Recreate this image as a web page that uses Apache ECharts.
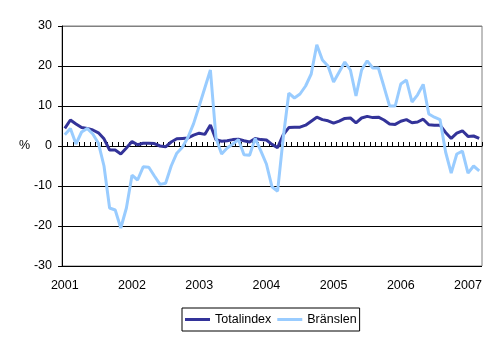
<!DOCTYPE html>
<html>
<head>
<meta charset="utf-8">
<script src="https://cdn.jsdelivr.net/npm/echarts@6/dist/echarts.min.js"></script>
<style>
  html, body { margin: 0; padding: 0; background: #fff; }
  #chart { width: 497px; height: 340px; }
</style>
</head>
<body>
<div id="chart"></div>
<script>
// Monthly change, %, January 2001 – March 2007
const years = ['2001', '2002', '2003', '2004', '2005', '2006', '2007'];
const months = [];
years.forEach(y => {
  const last = y === '2007' ? 3 : 12;
  for (let m = 1; m <= last; m++) months.push(y + '-' + String(m).padStart(2, '0'));
});

const totalindex = [
  4.4, 6.5, 5.5, 4.6, 4.4, 4.0, 3.3, 1.8, -1.0, -1.0, -2.0, -0.5,
  1.1, 0.3, 0.7, 0.7, 0.6, 0.0, -0.2, 1.0, 1.8, 1.9, 2.0, 2.7,
  3.2, 2.9, 5.25, 1.6, 1.2, 1.3, 1.6, 1.7, 1.3, 1.0, 1.9, 1.6,
  1.5, 0.4, -0.4, 2.8, 4.6, 4.7, 4.7, 5.2, 6.2, 7.2, 6.6, 6.3,
  5.7, 6.2, 6.9, 7.0, 5.8, 7.0, 7.4, 7.1, 7.2, 6.5, 5.5, 5.4,
  6.2, 6.6, 5.8, 6.0, 6.7, 5.3, 5.2, 5.2, 3.4, 1.9, 3.2, 3.8,
  2.4, 2.5, 1.9
];

const branslen = [
  2.8, 4.4, 0.5, 3.5, 4.4, 3.0, 0.7, -5.0, -15.5, -16.0, -20.5, -15.5,
  -7.3, -8.5, -5.2, -5.3, -7.5, -9.6, -9.3, -5.0, -1.8, -0.3, 2.2, 5.6,
  10.0, 14.5, 19.0, 2.0, -2.0, -0.5, 0.5, 1.6, -2.2, -2.3, 1.9, -1.2,
  -4.5, -10.2, -11.3, 2.0, 13.2, 12.0, 13.0, 15.0, 18.0, 25.3, 21.5, 20.0,
  16.0, 18.5, 21.0, 19.0, 12.5, 19.0, 21.3, 19.5, 19.5, 14.8, 10.0, 10.0,
  15.5, 16.5, 11.0, 12.8, 15.4, 8.0, 7.2, 6.6, -1.5, -6.8, -2.0, -1.3,
  -6.8, -5.0, -6.2
];

const yTicks = { min: -30, max: 30, step: 10 };

const font = 'Liberation Sans, Arial, sans-serif';
const chart = echarts.init(document.getElementById('chart'), null, { renderer: 'canvas' });

chart.setOption({
  animation: false,
  backgroundColor: '#ffffff',
  textStyle: { fontFamily: font },
  grid: {
    left: 62, right: 15, top: 26, bottom: 74,
    show: true, borderColor: '#808080', borderWidth: 1
  },
  xAxis: {
    type: 'category',
    data: months,
    boundaryGap: true,
    axisLine: { lineStyle: { color: '#000', width: 1 } },
    axisTick: { show: true, inside: true, length: 4, interval: 0, lineStyle: { color: '#000' } },
    axisLabel: {
      interval: 11,
      margin: 13,
      color: '#000',
      fontSize: 12.5,
      fontFamily: font,
      formatter: v => v.slice(0, 4)
    },
    splitLine: { show: false }
  },
  yAxis: {
    type: 'value',
    min: yTicks.min, max: yTicks.max, interval: yTicks.step,
    axisLine: { show: true, lineStyle: { color: '#000', width: 1 } },
    axisTick: { show: true, length: 4, lineStyle: { color: '#000' } },
    axisLabel: { color: '#000', fontSize: 12.5, fontFamily: font, margin: 10 },
    splitLine: {
      show: true,
      lineStyle: { color: ['#000', '#000', '#000', '#000', '#000', '#000', '#808080'], width: 1 }
    }
  },
  legend: {
    left: 182, top: 308,
    padding: [5, 3, 5, 3],
    itemWidth: 25, itemHeight: 3, itemGap: 6,
    borderColor: '#000', borderWidth: 1,
    icon: 'rect',
    textStyle: { color: '#000', fontSize: 12.5, fontFamily: font },
    data: ['Totalindex', 'Bränslen']
  },
  graphic: [{
    type: 'text', left: 19, top: 139,
    style: { text: '%', fill: '#000', font: '12.5px ' + font }
  }],
  series: [
    {
      name: 'Totalindex', type: 'line', data: totalindex,
      showSymbol: false, symbol: 'none',
      lineStyle: { color: '#333399', width: 3 },
      itemStyle: { color: '#333399' },
      z: 2
    },
    {
      name: 'Bränslen', type: 'line', data: branslen,
      showSymbol: false, symbol: 'none',
      lineStyle: { color: '#99CCFF', width: 3 },
      itemStyle: { color: '#99CCFF' },
      z: 3
    }
  ]
});
</script>
</body>
</html>
